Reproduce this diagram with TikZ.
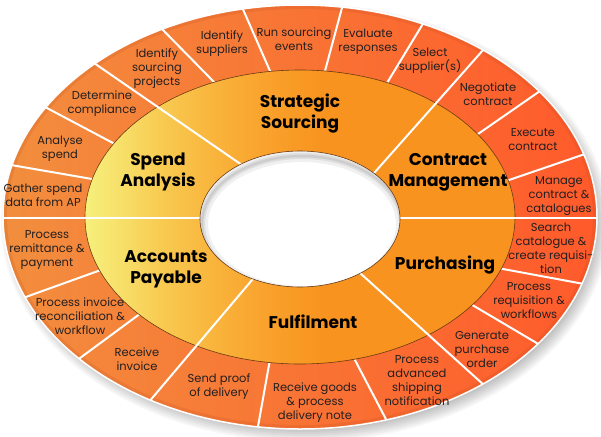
\documentclass[tikz,border=0pt]{standalone}
\usepackage{fontspec}
\setmainfont{Poppins}
\definecolor{ringL}{HTML}{F28E3E}
\definecolor{ringR}{HTML}{FF5A2B}
\definecolor{rimc}{HTML}{B8431A}
\definecolor{edgec}{HTML}{6B3A12}
\definecolor{txt}{HTML}{231F20}
\definecolor{yel}{HTML}{F6F07C}
\definecolor{yel2}{HTML}{F7E06A}
\definecolor{or0}{HTML}{F8CA50}
\definecolor{or1}{HTML}{F9B43C}
\definecolor{or2}{HTML}{F9A22C}
\definecolor{or3}{HTML}{F7931E}
\pgfdeclarehorizontalshading{innershade}{100bp}{color(0bp)=(yel); color(25bp)=(yel); color(29bp)=(yel2); color(34bp)=(or0); color(40bp)=(or1); color(46bp)=(or2); color(53bp)=(or3); color(100bp)=(or3)}
\begin{document}
\begin{tikzpicture}[x=1pt,y=-1pt,
  small/.style={font=\fontsize{11.5}{14}\selectfont, align=center, text=txt, inner sep=0pt},
  big/.style={font=\fontsize{17}{21}\selectfont\bfseries, align=center, text=black, inner sep=0pt},
  divider/.style={draw=white, line width=2pt, shorten <=-3pt, shorten >=-6pt}]
\useasboundingbox (0,0) rectangle (601,436);
\fill[white] (0,0) rectangle (601,436);
% drop shadow
\foreach \k in {0,...,7}
  \fill[black, opacity=0.035] (305,223) ellipse [x radius={(290+2*\k)*1pt}, y radius={(205+2*\k)*1pt}];
% outer ring
\shade[left color=ringL, right color=ringR] (300,217) ellipse [x radius=297pt, y radius=212pt];
\begin{scope}
  \clip (300,217) ellipse [x radius=297pt, y radius=212pt];
  \draw[line width=8pt, draw=rimc, opacity=0.16] (300,217) ellipse [x radius=297pt, y radius=212pt];
  % short dividers
  \draw[divider] (92,179) -- (11,165);
  \draw[divider] (113,143) -- (45,107);
  \draw[divider] (215,83) -- (160,27);
  \draw[divider] (270,71) -- (242,7);
  \draw[divider] (325,71) -- (343,4);
  \draw[divider] (387,83) -- (424,22);
  \draw[divider] (478,134) -- (540,91);
  \draw[divider] (509,180) -- (585,154);
  \draw[divider] (503,269) -- (584,284);
  \draw[divider] (474,306) -- (540,345);
  \draw[divider] (356,362) -- (389,425);
  \draw[divider] (269,365) -- (257,432);
  \draw[divider] (137,316) -- (76,361);
  \draw[divider] (98,271) -- (23,298);
\end{scope}
% inner ring
\shade[shading=innershade] (300,217) ellipse [x radius=215pt, y radius=147pt];
\draw[line width=0.6pt, draw=edgec] (300,217) ellipse [x radius=215pt, y radius=147pt];
% long dividers
\begin{scope}
  \clip (300,217) ellipse [x radius=297pt, y radius=212pt];
  \draw[divider] (200,218) -- (2,218);
  \draw[divider] (239,163) -- (94,63);
  \draw[divider] (375,172) -- (484,49);
  \draw[divider] (400,218) -- (598,218);
  \draw[divider] (360,273) -- (485,386);
  \draw[divider] (252,280) -- (148,403);
\end{scope}
% hole
\fill[white] (300,219) ellipse [x radius=100pt, y radius=68pt];
\begin{scope}
  \clip (300,219) ellipse [x radius=100pt, y radius=68pt];
  \draw[black, opacity=0.06, line width=12pt] (302,224) ellipse [x radius=100pt, y radius=68pt];
  \draw[black, opacity=0.07, line width=6pt] (302,224) ellipse [x radius=100pt, y radius=68pt];
  \draw[black, opacity=0.08, line width=2.5pt] (302,224) ellipse [x radius=100pt, y radius=68pt];
\end{scope}
\draw[line width=0.6pt, draw=edgec] (300,219) ellipse [x radius=100pt, y radius=68pt];
% outer white rim
\draw[white, line width=1.5pt] (300,217) ellipse [x radius=297pt, y radius=212pt];
% main labels
\node[big] (sa) at (158,172) {Spend\\Analysis};
\node[big] (ss) at (300,114) {Strategic\\Sourcing};
\node[big] (cm) at (448,172) {Contract\\Management};
\node[big] (pu) at (445,265) {Purchasing};
\node[big] (fu) at (313,322) {Fulfilment};
\node[big] (ap) at (166,269) {Accounts\\Payable};
% step labels
\node[small] (s1) at (43,195) {Gather spend\\data from AP};
\node[small] (s2) at (60,149) {Analyse\\spend};
\node[small] (s3) at (102,104) {Determine\\compliance};
\node[small] (s4) at (157,69) {Identify\\sourcing\\projects};
\node[small] (s5) at (222,44) {Identify\\suppliers};
\node[small] (s6) at (294,39) {Run sourcing\\events};
\node[small] (s7) at (368,42) {Evaluate\\responses};
\node[small] (s8) at (430,61) {Select\\supplier(s)};
\node[small] (s9) at (488,94) {Negotiate\\contract};
\node[small] (s10) at (533,140) {Execute\\contract};
\node[small] (s11) at (559,196) {Manage\\contract \&\\catalogues};
\node[small] (s12) at (551,248) {Search\\catalogue \&\\create requisi-\\tion};
\node[small] (s13) at (529,301) {Process\\requisition \&\\workflows};
\node[small] (s14) at (482,349) {Generate\\purchase\\order};
\node[small] (s15) at (417,381) {Process\\advanced\\shipping\\notification};
\node[small] (s16) at (315,403) {Receive goods\\\& process\\delivery note};
\node[small] (s17) at (219,387) {Send proof\\of delivery};
\node[small] (s18) at (137,359) {Receive\\invoice};
\node[small] (s19) at (80,316) {Process invoice\\reconciliation \&\\workflow};
\node[small] (s20) at (47,250) {Process\\remittance \&\\payment};
\end{tikzpicture}
\end{document}
